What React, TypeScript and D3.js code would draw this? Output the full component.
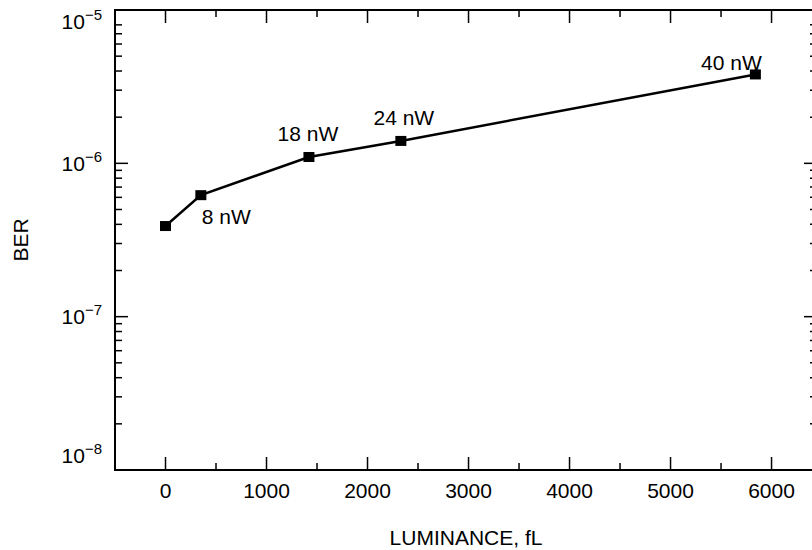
import React from "react";
import * as d3 from "d3";

// Measured bit error rate against ambient luminance, one point per optical power level
const luminance = [0, 350, 1420, 2330, 5840];
const ber = [3.9e-7, 6.2e-7, 1.1e-6, 1.4e-6, 3.8e-6];
const powerLabels = ["", "8 nW", "18 nW", "24 nW", "40 nW"];

const xTickValues = [0, 1000, 2000, 3000, 4000, 5000, 6000];
const xMinorValues = [500, 1500, 2500, 3500, 4500, 5500];
const yDecades = [1e-8, 1e-7, 1e-6, 1e-5];
const yExponents = ["\u22128", "\u22127", "\u22126", "\u22125"];

const W = 812;
const H = 550;
const frame = { left: 115, right: 817, top: 10, bottom: 470 };
const FONT = "'Liberation Sans', Arial, Helvetica, sans-serif";
const FS = 21;

// label placement relative to each marker: [dx, dy, anchor]
const labelPlacement: [number, number, string][] = [
  [0, 0, "middle"],
  [1, 29, "start"],
  [-1, -16, "middle"],
  [3, -16, "middle"],
  [-24, -4, "middle"],
];

export default function App() {
  const x = d3.scaleLinear().domain([-500, 6450]).range([frame.left, frame.right]);
  const y = d3.scaleLog().domain([1e-8, 1e-5]).range([frame.bottom, frame.top]);

  const points = luminance.map((l, i) => ({ l, b: ber[i], label: powerLabels[i] }));
  const line = d3
    .line<{ l: number; b: number }>()
    .x((d) => x(d.l))
    .y((d) => y(d.b));

  // minor log ticks 2..9 inside each decade, skipping those crowding the frame
  const yMinor: number[] = [];
  for (let k = 0; k < yDecades.length - 1; k++) {
    for (let m = 2; m <= 9; m++) {
      const v = yDecades[k] * m;
      const py = y(v);
      if (py - frame.top > 10 && frame.bottom - py > 10) yMinor.push(v);
    }
  }
  const yMajorInner = yDecades.filter((v) => {
    const py = y(v);
    return py - frame.top > 2 && frame.bottom - py > 2;
  });

  const MAJ = 13;
  const MIN = 7;
  const tickStroke = 1.5;

  return (
    <svg
      width={W}
      height={H}
      style={{ position: "absolute", left: 0, top: 0, background: "#fff" }}
      fontFamily={FONT}
    >
      <rect x={0} y={0} width={W} height={H} fill="#fff" />

      {/* x ticks, bottom and top */}
      <g stroke="#000" strokeWidth={tickStroke}>
        {xTickValues.map((v) => (
          <g key={"xt" + v}>
            <line x1={x(v)} x2={x(v)} y1={frame.bottom} y2={frame.bottom - MAJ} />
            <line x1={x(v)} x2={x(v)} y1={frame.top} y2={frame.top + MAJ} />
          </g>
        ))}
        {xMinorValues.map((v) => (
          <g key={"xm" + v}>
            <line x1={x(v)} x2={x(v)} y1={frame.bottom} y2={frame.bottom - MIN} />
            <line x1={x(v)} x2={x(v)} y1={frame.top} y2={frame.top + MIN} />
          </g>
        ))}
        {yMajorInner.map((v) => (
          <g key={"yt" + v}>
            <line x1={frame.left} x2={frame.left + MAJ} y1={y(v)} y2={y(v)} />
            <line x1={frame.right} x2={frame.right - MAJ} y1={y(v)} y2={y(v)} />
          </g>
        ))}
        {yMinor.map((v) => (
          <g key={"ym" + v}>
            <line x1={frame.left} x2={frame.left + MIN} y1={y(v)} y2={y(v)} />
            <line x1={frame.right} x2={frame.right - MIN} y1={y(v)} y2={y(v)} />
          </g>
        ))}
      </g>

      {/* frame */}
      <rect
        x={frame.left}
        y={frame.top}
        width={frame.right - frame.left}
        height={frame.bottom - frame.top}
        fill="none"
        stroke="#000"
        strokeWidth={2}
      />

      {/* x tick labels */}
      {xTickValues.map((v) => (
        <text key={"xl" + v} x={x(v)} y={498} fontSize={FS} textAnchor="middle" fill="#000">
          {v}
        </text>
      ))}

      {/* y tick labels as powers of ten */}
      {yDecades.map((v, i) => {
        const by = Math.min(Math.max(y(v) + 7.5, 29), 463);
        return (
          <text key={"yl" + v} x={102} y={by} textAnchor="end" fill="#000">
            <tspan fontSize={FS}>10</tspan>
            <tspan fontSize={15} dy={-9}>
              {yExponents[i]}
            </tspan>
          </text>
        );
      })}

      {/* axis titles */}
      <text x={(frame.left + frame.right) / 2} y={545} fontSize={FS} textAnchor="middle" fill="#000">
        LUMINANCE, fL
      </text>
      <text
        transform={`translate(28, ${(frame.top + frame.bottom) / 2}) rotate(-90)`}
        fontSize={FS}
        textAnchor="middle"
        fill="#000"
      >
        BER
      </text>

      {/* data line and markers */}
      <path d={line(points) || ""} fill="none" stroke="#000" strokeWidth={2.5} />
      {points.map((p, i) => (
        <rect key={"m" + i} x={x(p.l) - 5.5} y={y(p.b) - 5} width={11} height={10} fill="#000" />
      ))}
      {points.map((p, i) =>
        p.label ? (
          <text
            key={"pl" + i}
            x={x(p.l) + labelPlacement[i][0]}
            y={y(p.b) + labelPlacement[i][1]}
            textAnchor={labelPlacement[i][2]}
            fontSize={FS}
            fill="#000"
          >
            {p.label}
          </text>
        ) : null
      )}
    </svg>
  );
}
